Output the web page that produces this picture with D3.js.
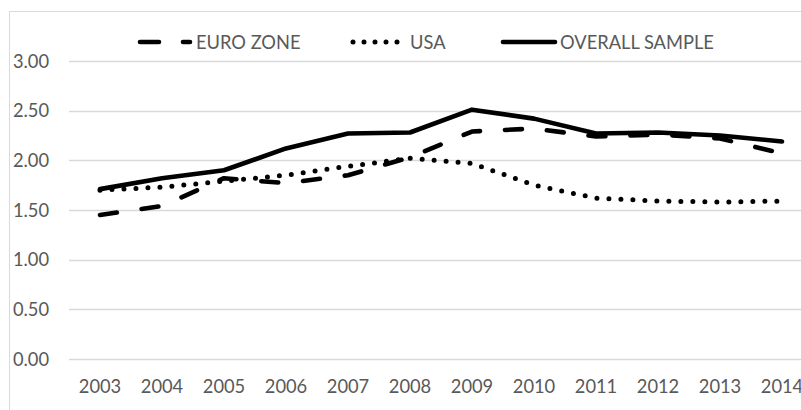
<!DOCTYPE html>
<html><head><meta charset="utf-8">
<script src="https://cdn.jsdelivr.net/npm/d3@7"></script>
<style>body{margin:0;background:#fff}text{font-family:Lato,"Open Sans",sans-serif;fill:#595959}</style>
</head><body><svg id="c" width="801" height="410"></svg>
<script>
const years = ["2003","2004","2005","2006","2007","2008","2009","2010","2011","2012","2013","2014"];
const euroZone = [1.45,1.54,1.82,1.77,1.85,2.03,2.29,2.32,2.24,2.26,2.22,2.07];
const usa = [1.70,1.73,1.79,1.85,1.94,2.02,1.97,1.75,1.62,1.59,1.58,1.59];
const overall = [1.71,1.82,1.90,2.12,2.27,2.28,2.51,2.42,2.27,2.28,2.25,2.19];
const yTicks = [0,0.5,1,1.5,2,2.5,3];
const seriesNames = ["EURO ZONE","USA","OVERALL SAMPLE"];

const svg = d3.select("#c");
const fs = 18.3;
svg.append("rect").attr("x",9.5).attr("y",11.5).attr("width",900).attr("height",500)
  .attr("fill","#fff").attr("stroke","#d9d9d9");

const x = d3.scaleBand().domain(years).range([69, 813]);
const y = d3.scaleLinear().domain([0,3]).range([359, 61]);

const g = svg.append("g");
g.selectAll("line.grid").data(yTicks).enter().append("line")
  .attr("x1",69).attr("x2",801).attr("y1",d=>Math.round(y(d))+0.5).attr("y2",d=>Math.round(y(d))+0.5)
  .attr("stroke","#d9d9d9").attr("stroke-width",1.3);

g.selectAll("text.yl").data(yTicks).enter().append("text")
  .attr("x",49).attr("y",d=>y(d)).attr("dy","0.36em").attr("text-anchor","end")
  .attr("font-size",fs).text(d=>d3.format(".2f")(d));

g.selectAll("text.xl").data(years).enter().append("text")
  .attr("x",d=>x(d)+x.bandwidth()/2).attr("y",386).attr("dy","0.36em").attr("text-anchor","middle")
  .attr("font-size",fs).text(d=>d);

const styles = [
  {dash:"17,25", w:4.6},
  {dash:"0,12", w:5},
  {dash:null, w:4.6}
];
const data = [euroZone, usa, overall];
const line = d3.line().x((d,i)=>x(years[i])+x.bandwidth()/2).y(d=>y(d));
data.forEach((vals,k)=>{
  const p = svg.append("path").datum(vals).attr("d",line).attr("fill","none")
    .attr("stroke","#000").attr("stroke-width",styles[k].w)
    .attr("stroke-linecap","round").attr("stroke-linejoin","round");
  if(styles[k].dash) p.attr("stroke-dasharray",styles[k].dash);
});

// legend
const legX = [[140,190,196],[353,408,410],[503,555,560]];
const legY = 42;
seriesNames.forEach((n,k)=>{
  const l = svg.append("line").attr("x1",legX[k][0]).attr("x2",legX[k][1]).attr("y1",legY).attr("y2",legY)
    .attr("stroke","#000").attr("stroke-width",styles[k].w).attr("stroke-linecap","round");
  if(styles[k].dash) l.attr("stroke-dasharray", k===0 ? "19,24" : "0,11");
  svg.append("text").attr("x",legX[k][2]).attr("y",legY).attr("dy","0.36em").attr("font-size",fs).text(n);
});
</script></body></html>
